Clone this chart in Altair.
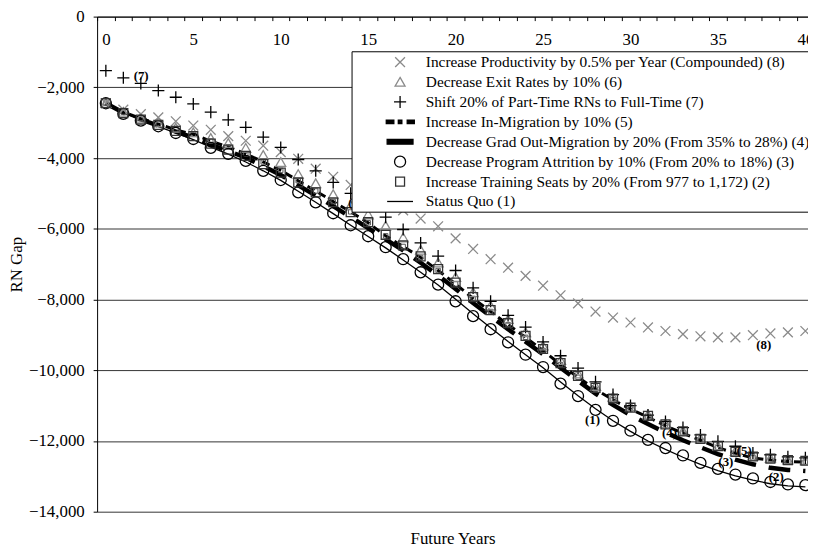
import altair as alt
import pandas as pd

# ---------------- data ----------------
years = list(range(41))

status_quo = [-2450, -2720, -2930, -3110, -3290, -3480, -3690, -3890, -4110, -4360,
              -4630, -4940, -5250, -5570, -5900, -6220, -6540, -6880, -7230, -7590,
              -7990, -8400, -8800, -9190, -9560, -9930, -10330, -10720, -11090, -11430,
              -11730, -12000, -12240, -12460, -12660, -12840, -12990, -13110, -13210, -13270,
              -13300]
training_seats = [-2450, -2730, -2910, -3060, -3230, -3380, -3590, -3760, -3940, -4170,
                  -4410, -4690, -4970, -5250, -5530, -5810, -6170, -6470, -6780, -7140,
                  -7520, -7930, -8300, -8670, -9030, -9400, -9800, -10160, -10500, -10800,
                  -11060, -11290, -11530, -11730, -11940, -12150, -12310, -12440, -12500, -12540,
                  -12560]
program_attrition = [-2450, -2750, -2940, -3100, -3290, -3460, -3710, -3880, -4080, -4360,
                     -4620, -4970, -5250, -5560, -5900, -6210, -6520, -6860, -7230, -7580,
                     -8050, -8470, -8840, -9210, -9560, -9910, -10380, -10730, -11120, -11430,
                     -11710, -11970, -12200, -12410, -12620, -12790, -12950, -13060, -13160, -13230,
                     -13250]
grad_out_migration = [-2450, -2720, -2910, -3080, -3250, -3420, -3620, -3800, -3990, -4230,
                      -4480, -4770, -5060, -5360, -5670, -5980, -6300, -6610, -6960, -7320,
                      -7700, -8100, -8470, -8840, -9190, -9550, -9930, -10300, -10660, -10980,
                      -11270, -11520, -11760, -11980, -12180, -12370, -12530, -12660, -12760, -12820,
                      -12850]
in_migration = [-2450, -2700, -2880, -3040, -3200, -3330, -3520, -3690, -3880, -4110,
                -4350, -4640, -4930, -5230, -5520, -5830, -6200, -6500, -6810, -7180,
                -7560, -7970, -8340, -8710, -9070, -9440, -9840, -10200, -10540, -10840,
                -11100, -11330, -11570, -11780, -11980, -12190, -12350, -12480, -12540, -12580,
                -12600]
exit_rates = [-2450, -2700, -2870, -3000, -3150, -3280, -3440, -3580, -3720, -3920,
              -4120, -4460, -4720, -5030, -5340, -5600, -5920, -6250, -6600, -6960,
              -7370, -7800, -8180, -8560, -8930, -9310, -9720, -10100, -10450, -10760,
              -11030, -11260, -11510, -11720, -11930, -12140, -12290, -12430, -12490, -12530,
              -12550]
part_time_shift = [-1530, -1730, -1890, -2090, -2280, -2470, -2700, -2920, -3130, -3410,
                   -3700, -4040, -4360, -4690, -5000, -5330, -5670, -6020, -6400, -6770,
                   -7180, -7670, -8050, -8450, -8780, -9200, -9590, -9940, -10330, -10690,
                   -11000, -11270, -11450, -11620, -11830, -12010, -12150, -12340, -12390, -12450,
                   -12480]
productivity = [-2450, -2630, -2760, -2850, -2960, -3080, -3200, -3380, -3510, -3650,
                -3830, -4020, -4300, -4530, -4760, -5000, -5240, -5480, -5710, -5930,
                -6270, -6570, -6860, -7100, -7330, -7610, -7880, -8110, -8340, -8510,
                -8650, -8790, -8890, -8980, -9040, -9070, -9070, -9010, -8960, -8930,
                -8890]

legend_labels = [
    "Increase Productivity by 0.5% per Year (Compounded) (8)",
    "Decrease Exit Rates by 10% (6)",
    "Shift 20% of Part-Time RNs to Full-Time (7)",
    "Increase In-Migration by 10% (5)",
    "Decrease Grad Out-Migration by 20% (From 35% to 28%) (4)",
    "Decrease Program Attrition by 10% (From 20% to 18%) (3)",
    "Increase Training Seats by 20% (From 977 to 1,172) (2)",
    "Status Quo (1)",
]
series_values = [productivity, exit_rates, part_time_shift, in_migration,
                 grad_out_migration, program_attrition, training_seats, status_quo]

y_ticks = [-14000, -12000, -10000, -8000, -6000, -4000, -2000, 0]
x_labels = [0, 5, 10, 15, 20, 25, 30, 35, 40]
x_tick_marks = [-0.5] + [y + 0.5 for y in years]

rows = []
for name, vals in zip(legend_labels, series_values):
    for yr, v in zip(years, vals):
        rows.append({"year": yr, "value": v, "series": name})
df = pd.DataFrame(rows)

# ---------------- styling ----------------
FONT = "Liberation Serif"
GRAY = "#8a8a8a"

# legend / marker glyphs (SVG paths, unit = half symbol width)
shape_paths = [
    "M-0.55,-0.55L0.55,0.55M-0.55,0.55L0.55,-0.55",               # x
    "M0,-0.52L0.56,0.46L-0.56,0.46Z",                             # triangle
    "M-0.68,0H0.68M0,-0.68V0.68",                                 # plus
    "M-1.55,-0.2H-0.7V0.2H-1.55Z M0.8,-0.2H1.6V0.2H0.8Z "
    "M-0.2,-0.2H0.2V0.2H-0.2Z M-0.1,-0.1V0.1H0.1V-0.1Z",          # dash - square - dash
    "M-1.45,-0.27H1.45V0.27H-1.45Z",                              # thick bar
    "M0.62,0A0.62,0.62,0,1,1,-0.62,0A0.62,0.62,0,1,1,0.62,0Z",   # circle
    "M-0.5,-0.5H0.5V0.5H-0.5Z",                                   # square
    "M-1.45,0H1.45",                                              # thin line
]
stroke_colors = [GRAY, GRAY, "black", "black", "black", "black", "#333333", "black"]
fill_colors = ["transparent", "transparent", "transparent", "black", "black",
               "transparent", "transparent", "transparent"]

xscale = alt.Scale(domain=[-0.5, 40.15], nice=False, zero=False)
yscale = alt.Scale(domain=[-14000, 0], nice=False, zero=False)

y_axis = alt.Axis(values=y_ticks, labelExpr="format(datum.value, ',')",
                  grid=True, gridColor="#333333", gridWidth=1,
                  domainColor="black", tickColor="black", tickSize=4, labelPadding=9,
                  labelFont=FONT, labelFontSize=17, labelColor="black",
                  title="RN Gap", titleFont=FONT, titleFontSize=17, titleFontWeight="normal",
                  titleColor="black", titlePadding=3)
tick_axis = alt.Axis(orient="bottom", offset=-500, values=x_tick_marks, labels=False,
                     ticks=True, tickSize=4, tickColor="black", domain=True,
                     domainColor="black", grid=False, title=None)
label_axis = alt.Axis(orient="bottom", offset=-500, values=x_labels, labels=True,
                      ticks=False, tickSize=0, domain=False, grid=False, labelPadding=15,
                      labelFont=FONT, labelFontSize=17, labelColor="black",
                      labelFlush=False, labelOverlap=False, title=None)
title_axis = alt.Axis(orient="bottom", labels=False, ticks=False, domain=False, grid=False,
                      title="Future Years", titleFont=FONT, titleFontSize=17,
                      titleFontWeight="normal", titleColor="black", titlePadding=19)


def X(axis=None):
    return alt.X("year:Q", scale=xscale, axis=axis)


def Y():
    return alt.Y("value:Q", scale=yscale, axis=y_axis)


base = alt.Chart(df)

sq_line = base.transform_filter(alt.datum.series == legend_labels[7]).mark_line(
    color="black", strokeWidth=1.3).encode(x=X(tick_axis), y=Y())
grad_line = base.transform_filter(alt.datum.series == legend_labels[4]).mark_line(
    color="black", strokeWidth=4.5, strokeDash=[22, 13]).encode(x=X(label_axis), y=Y())
inmig_line = base.transform_filter(alt.datum.series == legend_labels[3]).mark_line(
    color="black", strokeWidth=3, strokeDash=[8, 5]).encode(x=X(title_axis), y=Y())
inmig_pts = base.transform_filter(alt.datum.series == legend_labels[3]).mark_point(
    shape="M-0.25,-0.25H0.25V0.25H-0.25Z", size=324, stroke="#555555", strokeWidth=1,
    filled=False, opacity=1).encode(x=X(), y=Y())

point_series = [legend_labels[i] for i in (0, 1, 2, 5, 6)]
legend = alt.Legend(title=None, orient="none", legendX=257, legendY=35,
                    fillColor="white", strokeColor="black", padding=1,
                    labelFont=FONT, labelFontSize=15.5, labelColor="black", labelLimit=1000,
                    symbolSize=324, symbolStrokeWidth=1.3, symbolOffset=38, labelOffset=16,
                    rowPadding=1.1)
pts = base.transform_filter(alt.FieldOneOfPredicate(field="series", oneOf=point_series)).mark_point(
    size=324, strokeWidth=1.3, opacity=1).encode(
    x=X(), y=Y(),
    shape=alt.Shape("series:N", scale=alt.Scale(domain=legend_labels, range=shape_paths), legend=legend),
    stroke=alt.Stroke("series:N", scale=alt.Scale(domain=legend_labels, range=stroke_colors), legend=legend),
    fill=alt.Fill("series:N", scale=alt.Scale(domain=legend_labels, range=fill_colors), legend=legend),
)

# in-chart series tags
tag_text = ["(7)", "(6)", "(8)", "(1)", "(4)", "(5)", "(3)", "(2)"]
tag_series = [part_time_shift, exit_rates, productivity, status_quo,
              grad_out_migration, in_migration, program_attrition, training_seats]
tag_year = [1, 14, 37, 28, 32, 36, 35, 38]
tag_offsets = [(18, -2), (5, -2), (11, 10), (-3, 11), (4, 1), (9, -2), (8, -7), (6, 19)]

tags = []
for txt, ser, yr, (dx, dy) in zip(tag_text, tag_series, tag_year, tag_offsets):
    tdf = pd.DataFrame({"year": [yr], "value": [ser[yr]], "tag": [txt]})
    tags.append(alt.Chart(tdf).mark_text(font=FONT, fontSize=13, fontWeight="bold",
                                         color="black", dx=dx, dy=dy).encode(
        x=X(), y=Y(), text="tag:N"))

chart = alt.layer(sq_line, grad_line, inmig_line, inmig_pts, pts, *tags).resolve_axis(
    x="independent").properties(
    width=718, height=500,
    autosize=alt.AutoSizeParams(type="none"),
    padding={"left": 90, "top": 6, "right": 0, "bottom": 37},
).configure_view(stroke=None)

chart.save("out.html", embed_options={"renderer": "svg", "actions": False})
